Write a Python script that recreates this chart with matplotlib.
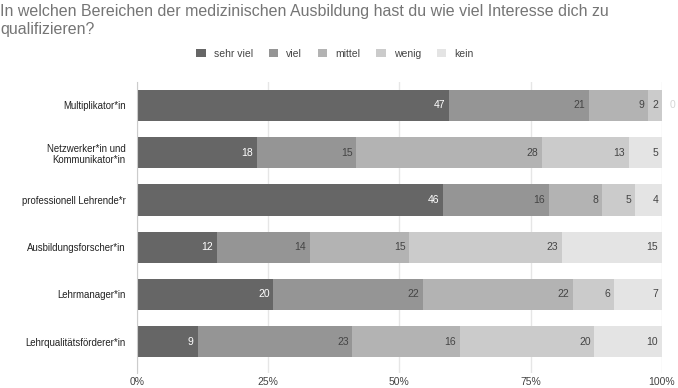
import matplotlib.pyplot as plt
import numpy as np

plt.rcParams["font.family"] = ["Liberation Sans", "DejaVu Sans"]

categories = [
    "Multiplikator*in",
    "Netzwerker*in und\nKommunikator*in",
    "professionell Lehrende*r",
    "Ausbildungsforscher*in",
    "Lehrmanager*in",
    "Lehrqualitätsförderer*in",
]
series = ["sehr viel", "viel", "mittel", "wenig", "kein"]
sehr_viel = [47, 18, 46, 12, 20, 9]
viel = [21, 15, 16, 14, 22, 23]
mittel = [9, 28, 8, 15, 22, 16]
wenig = [2, 13, 5, 23, 6, 20]
kein = [0, 5, 4, 15, 7, 10]
tick_labels = ["0%", "25%", "50%", "75%", "100%"]

colors = ["#666666", "#959595", "#b3b3b3", "#cbcbcb", "#e4e4e4"]
text_colors = ["white", "#444444", "#444444", "#444444", "#444444"]

values = np.array([sehr_viel, viel, mittel, wenig, kein], dtype=float)
totals = values.sum(axis=0)
shares = values / totals

fig = plt.figure(figsize=(6.78, 3.88), dpi=100)
ax = fig.add_axes([0.202, 0.039, 0.774, 0.75])

y = np.arange(len(categories))
left = np.zeros(len(categories))
for i, name in enumerate(series):
    ax.barh(y, shares[i], left=left, height=0.66, color=colors[i], label=name, zorder=2)
    for j in range(len(categories)):
        end = left[j] + shares[i][j]
        if values[i][j] > 0:
            ax.text(end - 0.007, y[j], str(int(values[i][j])), ha="right", va="center",
                    fontsize=7.5, color=text_colors[i], zorder=3)
        else:
            ax.text(end + 0.016, y[j], "0", ha="left", va="center",
                    fontsize=7.5, color="#d5d5d5", zorder=3)
    left += shares[i]

ax.set_ylim(len(categories) - 1 + 0.66, -0.5)
ax.set_xlim(0, 1)
ax.set_yticks(y)
ax.set_yticklabels(categories, fontsize=6.9, color="#222222")
ax.set_xticks(np.linspace(0, 1, 5))
ax.set_xticklabels(tick_labels, fontsize=7.5, color="#444444")
ax.tick_params(axis="both", length=0)
ax.tick_params(axis="x", pad=3)
ax.tick_params(axis="y", pad=8)
ax.grid(axis="x", color="#e6e6e6", linewidth=1, zorder=0)
for s in ["top", "right", "bottom"]:
    ax.spines[s].set_visible(False)
ax.spines["left"].set_color("#cccccc")
ax.spines["left"].set_zorder(3)

fig.text(0.0, 0.99, "In welchen Bereichen der medizinischen Ausbildung hast du wie viel Interesse dich zu\nqualifizieren?",
         ha="left", va="top", fontsize=11.5, color="#757575", linespacing=1.3)

handles, labels = ax.get_legend_handles_labels()
fig.legend(handles, labels, loc="center", bbox_to_anchor=(0.494, 0.862), ncol=5, frameon=False,
           fontsize=7.5, handlelength=0.9, handleheight=0.9, columnspacing=1.5, handletextpad=0.8,
           labelcolor="#444444")

fig.savefig("out.png", dpi=100)
